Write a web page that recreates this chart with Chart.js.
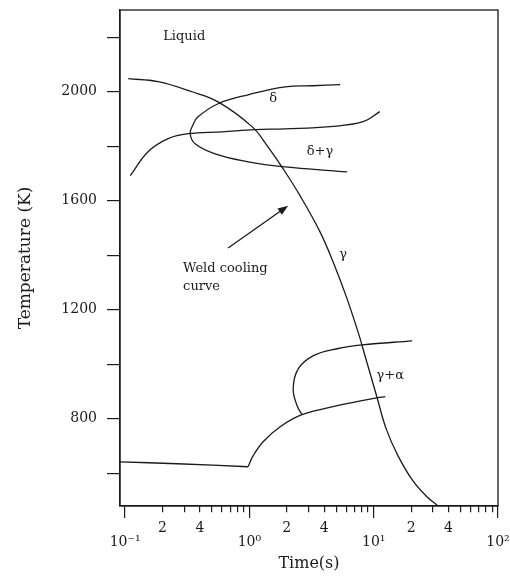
<!DOCTYPE html>
<html>
<head>
<meta charset="utf-8">
<title>Weld cooling curve</title>
<script src="https://cdn.jsdelivr.net/npm/chart.js@4.4.0/dist/chart.umd.min.js"></script>
<style>
    html, body { margin: 0; padding: 0; background: #fff; }
</style>
</head>
<body>
<canvas id="chart" width="510" height="581"></canvas>
<script>
// Data: time in s (log axis), temperature in K

// Weld cooling curve
const coolTime = [0.106, 0.184, 0.346, 0.56, 1.05, 1.41, 1.87, 2.56, 3.70, 4.71, 6.11, 7.78, 8.07, 10.6, 12.6, 15.7, 20.7, 27.4, 32.4];
const coolTemp = [2048, 2037, 2000, 1963, 1872, 1798, 1717, 1618, 1486, 1376, 1240, 1094, 1068, 881, 763, 664, 572, 510, 483];

// delta start curve (C-shaped, lower branch end -> nose -> upper branch end)
const deltaTime = [6.11, 1.83, 0.976, 0.53, 0.366, 0.334, 0.352, 0.386, 0.56, 0.976, 1.94, 3.25, 5.37];
const deltaTemp = [1706, 1725, 1743, 1772, 1809, 1846, 1879, 1908, 1956, 1989, 2018, 2022, 2026];

// delta + gamma boundary
const dgTime = [0.11, 0.153, 0.222, 0.321, 0.603, 1.11, 1.94, 4.46, 8.22, 11.2];
const dgTemp = [1692, 1780, 1828, 1846, 1853, 1861, 1864, 1872, 1890, 1927];

// gamma + alpha start curve (C-shaped)
const gaTime = [2.65, 2.42, 2.25, 2.47, 3.25, 5.08, 8.07, 20.4];
const gaTemp = [815, 848, 910, 983, 1031, 1057, 1071, 1086];

// lower boundary: flat part then rising part after 10^0
const flatTime = [0.091, 0.262, 0.976];
const flatTemp = [642, 635, 624];
const riseTime = [0.976, 1.07, 1.29, 1.77, 2.65, 5.08, 10.6, 12.4];
const riseTemp = [624, 664, 716, 771, 815, 848, 877, 881];

// axis ticks
const xTickValues = [0.1, 0.2, 0.3, 0.4, 0.5, 0.6, 0.7, 0.8, 0.9,
                     1, 2, 3, 4, 5, 6, 7, 8, 9,
                     10, 20, 30, 40, 50, 60, 70, 80, 90, 100];
const xTickLabels = ['10⁻¹', '2', '', '4', '', '', '', '', '',
                     '10⁰', '2', '', '4', '', '', '', '', '',
                     '10¹', '2', '', '4', '', '', '', '', '',
                     '10²'];
const yTickValues = [600, 800, 1000, 1200, 1400, 1600, 1800, 2000, 2200];
const yTickLabels = [800, 1200, 1600, 2000];

const INK = '#1a1a1a';
const FONT = 'DejaVu Serif';

function toPoints(xs, ys) {
    return xs.map((x, i) => ({ x: x, y: ys[i] }));
}

function curve(xs, ys) {
    return {
        data: toPoints(xs, ys),
        showLine: true,
        borderColor: INK,
        borderWidth: 1.3,
        pointRadius: 0,
        tension: 0.4,
        fill: false
    };
}

function isDecade(index) {
    return xTickLabels[index] && xTickLabels[index].startsWith('10');
}

// text labels and arrow inside the plot, placed in data units
const notes = [
    { text: 'Liquid', t: 0.299, T: 2202, align: 'center' },
    { text: 'δ', t: 1.55, T: 1974, align: 'center' },
    { text: 'δ+γ', t: 3.70, T: 1780, align: 'center' },
    { text: 'γ', t: 5.67, T: 1402, align: 'center' },
    { text: 'Weld cooling', t: 0.293, T: 1350, align: 'left' },
    { text: 'curve', t: 0.293, T: 1286, align: 'left' },
    { text: 'γ+α', t: 13.6, T: 958, align: 'center' }
];
const arrowFrom = { t: 0.674, T: 1427 };
const arrowTo = { t: 2.05, T: 1582 };

const decorations = {
    id: 'decorations',
    afterDatasetsDraw(chart) {
        const ctx = chart.ctx;
        const xs = chart.scales.x;
        const ys = chart.scales.y;
        const area = chart.chartArea;

        ctx.save();
        // frame round the plot
        ctx.strokeStyle = INK;
        ctx.lineWidth = 1.3;
        ctx.strokeRect(area.left, area.top, area.right - area.left, area.bottom - area.top);

        // labels
        ctx.fillStyle = INK;
        ctx.font = '13px "' + FONT + '"';
        ctx.textBaseline = 'middle';
        notes.forEach(n => {
            ctx.textAlign = n.align;
            ctx.fillText(n.text, xs.getPixelForValue(n.t), ys.getPixelForValue(n.T));
        });

        // arrow
        const x1 = xs.getPixelForValue(arrowFrom.t), y1 = ys.getPixelForValue(arrowFrom.T);
        const x2 = xs.getPixelForValue(arrowTo.t), y2 = ys.getPixelForValue(arrowTo.T);
        const ang = Math.atan2(y2 - y1, x2 - x1);
        const head = 11;
        ctx.lineWidth = 1.3;
        ctx.beginPath();
        ctx.moveTo(x1, y1);
        ctx.lineTo(x2 - Math.cos(ang) * head * 0.8, y2 - Math.sin(ang) * head * 0.8);
        ctx.stroke();
        ctx.beginPath();
        ctx.moveTo(x2, y2);
        ctx.lineTo(x2 - head * Math.cos(ang - 0.35), y2 - head * Math.sin(ang - 0.35));
        ctx.lineTo(x2 - head * Math.cos(ang + 0.35), y2 - head * Math.sin(ang + 0.35));
        ctx.closePath();
        ctx.fill();
        ctx.restore();
    }
};

new Chart(document.getElementById('chart'), {
    type: 'scatter',
    data: {
        datasets: [
            curve(coolTime, coolTemp),
            curve(deltaTime, deltaTemp),
            curve(dgTime, dgTemp),
            curve(gaTime, gaTemp),
            curve(flatTime, flatTemp),
            curve(riseTime, riseTemp)
        ]
    },
    options: {
        responsive: false,
        animation: false,
        layout: { autoPadding: false, padding: { top: 10, right: 12, left: 0, bottom: 0 } },
        plugins: {
            legend: { display: false },
            tooltip: { enabled: false }
        },
        scales: {
            x: {
                type: 'logarithmic',
                position: 'bottom',
                min: 0.091,
                max: 100,
                afterBuildTicks: scale => {
                    scale.ticks = xTickValues.map(v => ({ value: v }));
                },
                afterFit: scale => {
                    scale.height = 75;
                    scale.paddingLeft = 0;
                    scale.paddingRight = 0;
                },
                border: { display: true, color: INK, width: 1.3 },
                grid: {
                    drawOnChartArea: false,
                    drawTicks: true,
                    tickLength: 12,
                    color: INK,
                    lineWidth: 1.2,
                    tickBorderDash: ctx => isDecade(ctx.index) ? [] : [6, 40]
                },
                ticks: {
                    autoSkip: false,
                    maxRotation: 0,
                    minRotation: 0,
                    padding: 2,
                    color: INK,
                    font: ctx => isDecade(ctx.index)
                        ? { family: FONT, size: 14, lineHeight: 1.05 }
                        : { family: FONT, size: 14 },
                    callback: (value, index) => isDecade(index) ? ['', xTickLabels[index]] : xTickLabels[index]
                },
                title: {
                    display: true,
                    text: 'Time(s)',
                    color: INK,
                    font: { family: FONT, size: 16 },
                    padding: { top: 0, bottom: 8 }
                }
            },
            y: {
                type: 'linear',
                min: 480,
                max: 2300,
                afterBuildTicks: scale => {
                    scale.ticks = yTickValues.map(v => ({ value: v }));
                },
                afterFit: scale => {
                    scale.width = 120;
                    scale.paddingTop = 0;
                    scale.paddingBottom = 0;
                },
                border: { display: true, color: INK, width: 1.3 },
                grid: {
                    drawOnChartArea: false,
                    drawTicks: true,
                    tickLength: 13,
                    color: INK,
                    lineWidth: 1.2
                },
                ticks: {
                    padding: 10,
                    color: INK,
                    font: { family: FONT, size: 14 },
                    callback: value => yTickLabels.includes(value) ? String(value) : ''
                },
                title: {
                    display: true,
                    text: 'Temperature (K)',
                    color: INK,
                    font: { family: FONT, size: 17 },
                    padding: { top: 15, bottom: 0 }
                }
            }
        }
    },
    plugins: [decorations]
});
</script>
</body>
</html>
